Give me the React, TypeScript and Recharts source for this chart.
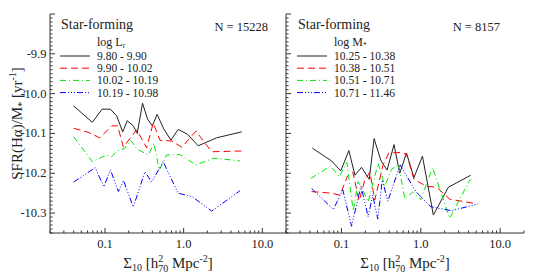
import { LineChart, Line, XAxis, YAxis, Legend } from 'recharts';

const FONT = '"Liberation Serif", "Times New Roman", serif';
const AXIS = '#333';

// left panel: bins of log L_r
const lumBins = ['9.80 - 9.90', '9.90 - 10.02', '10.02 - 10.19', '10.19 - 10.98'];
const lum1Sigma = [0.040, 0.069, 0.092, 0.117, 0.141, 0.168, 0.192, 0.229, 0.257, 0.30, 0.348, 0.40, 0.46, 0.56, 0.69, 0.85, 1.12, 1.53, 2.62, 5.46];
const lum1Sfr = [-10.031, -10.072, -10.039, -10.039, -10.056, -10.096, -10.068, -10.081, -10.100, -10.024, -10.064, -10.081, -10.052, -10.089, -10.117, -10.090, -10.102, -10.131, -10.111, -10.096];
const lum2Sigma = [0.040, 0.061, 0.086, 0.122, 0.145, 0.171, 0.253, 0.339, 0.41, 0.50, 0.71, 0.95, 1.43, 2.27, 5.46];
const lum2Sfr = [-10.087, -10.097, -10.111, -10.081, -10.081, -10.134, -10.091, -10.136, -10.074, -10.117, -10.119, -10.135, -10.094, -10.146, -10.144];
const lum3Sigma = [0.040, 0.069, 0.105, 0.122, 0.142, 0.179, 0.212, 0.255, 0.355, 0.42, 0.49, 0.61, 0.90, 1.43, 2.43, 5.19];
const lum3Sfr = [-10.108, -10.171, -10.154, -10.158, -10.144, -10.137, -10.117, -10.139, -10.154, -10.125, -10.192, -10.154, -10.153, -10.179, -10.162, -10.169];
const lum4Sigma = [0.040, 0.075, 0.097, 0.117, 0.148, 0.172, 0.229, 0.322, 0.392, 0.55, 0.85, 1.29, 2.27, 5.19];
const lum4Sfr = [-10.222, -10.186, -10.234, -10.191, -10.246, -10.218, -10.285, -10.196, -10.222, -10.171, -10.250, -10.259, -10.295, -10.244];

// right panel: bins of log M*
const massBins = ['10.25 - 10.38', '10.38 - 10.51', '10.51 - 10.71', '10.71 - 11.46'];
const mass1Sigma = [0.043, 0.075, 0.098, 0.124, 0.148, 0.179, 0.224, 0.258, 0.313, 0.376, 0.46, 0.543, 0.66, 0.82, 1.05, 1.44, 2.23, 4.25];
const mass1Sfr = [-10.137, -10.169, -10.194, -10.143, -10.205, -10.185, -10.215, -10.113, -10.167, -10.192, -10.128, -10.200, -10.149, -10.211, -10.157, -10.305, -10.235, -10.205];
const mass2Sigma = [0.042, 0.075, 0.096, 0.119, 0.139, 0.167, 0.197, 0.228, 0.263, 0.335, 0.395, 0.55, 0.66, 0.82, 1.18, 1.59, 2.31, 4.54];
const mass2Sfr = [-10.246, -10.250, -10.255, -10.207, -10.197, -10.269, -10.217, -10.197, -10.267, -10.179, -10.149, -10.148, -10.152, -10.215, -10.233, -10.235, -10.265, -10.275];
const mass3Sigma = [0.041, 0.073, 0.094, 0.117, 0.141, 0.162, 0.186, 0.217, 0.29, 0.352, 0.43, 0.52, 0.63, 0.79, 1.00, 1.41, 2.31, 4.21];
const mass3Sfr = [-10.213, -10.182, -10.209, -10.173, -10.295, -10.221, -10.242, -10.272, -10.175, -10.232, -10.190, -10.177, -10.264, -10.247, -10.266, -10.186, -10.313, -10.215];
const mass4Sigma = [0.042, 0.079, 0.104, 0.134, 0.176, 0.217, 0.248, 0.287, 0.327, 0.384, 0.55, 0.86, 1.33, 2.45, 5.25];
const mass4Sfr = [-10.238, -10.291, -10.242, -10.333, -10.232, -10.309, -10.255, -10.315, -10.217, -10.270, -10.179, -10.245, -10.284, -10.294, -10.277];

// axes
const xDomain = [0.02, 20];
const yDomain = [-10.35, -9.8];
const xTicks = [0.02, 0.03, 0.04, 0.05, 0.06, 0.07, 0.08, 0.09, 0.1, 0.2, 0.3, 0.4, 0.5, 0.6, 0.7, 0.8, 0.9, 1, 2, 3, 4, 5, 6, 7, 8, 9, 10, 20];
const xMajor = [0.1, 1, 10];
const xTickLabels = ['0.1', '1.0', '10.0'];
const yTickLabels = ['-9.9', '-10.0', '-10.1', '-10.2', '-10.3'];
const yTicks = Array.from({ length: 56 }, (_, i) => Math.round((-10.35 + i * 0.01) * 100) / 100);

const colors = ['#222', '#ff0000', '#00e600', '#0000ff'];
const dashes = [undefined, '7 4', '6 3 1 3', '6 2 1 2 1 2 1 2'];

const zip = (xs: number[], ys: number[]) => xs.map((x, i) => ({ x, y: ys[i] }));

const lumSeries = [zip(lum1Sigma, lum1Sfr), zip(lum2Sigma, lum2Sfr), zip(lum3Sigma, lum3Sfr), zip(lum4Sigma, lum4Sfr)];
const massSeries = [zip(mass1Sigma, mass1Sfr), zip(mass2Sigma, mass2Sfr), zip(mass3Sigma, mass3Sfr), zip(mass4Sigma, mass4Sfr)];

const isMajorY = (v: number) => Math.abs(v * 10 - Math.round(v * 10)) < 1e-6;

function AxisTick(props: any) {
  const { x, y, payload, side, showLabel } = props;
  const v = payload.value as number;
  const horiz = side === 'bottom' || side === 'top';
  const major = horiz ? xMajor.includes(v) : isMajorY(v);
  const len = major ? 5 : 2.5;
  let x2 = x, y2 = y;
  if (side === 'bottom') y2 = y - len;
  if (side === 'top') y2 = y + len;
  if (side === 'left') x2 = x + len;
  if (side === 'right') x2 = x - len;
  let label: string | null = null;
  if (showLabel && major) {
    if (horiz) label = xTickLabels[xMajor.indexOf(v)];
    else if (yTickLabels.includes(v.toFixed(1))) label = v.toFixed(1);
  }
  return (
    <g>
      <line x1={x} y1={y} x2={x2} y2={y2} stroke={AXIS} strokeWidth={1} />
      {label && side === 'bottom' && (
        <text x={x} y={y + 15} textAnchor="middle" fontSize={12.5} fontFamily={FONT} fill="#222">{label}</text>
      )}
      {label && side === 'left' && (
        <text x={x - 3.5} y={y + 4} textAnchor="end" fontSize={12.5} fontFamily={FONT} fill="#222">{label}</text>
      )}
    </g>
  );
}

function BinLegend({ head, sub, bins }: { head: string; sub: string; bins: string[] }) {
  return (
    <svg width={130} height={72} style={{ overflow: 'visible' }}>
      <text x={42} y={16} fontSize={12} fontFamily={FONT} fill="#222">
        {head}
        <tspan dy={2} fontSize={7.5}>{sub}</tspan>
      </text>
      {bins.map((b, i) => (
        <g key={b}>
          <line x1={5} x2={35} y1={26 + i * 12.2} y2={26 + i * 12.2} stroke={colors[i]} strokeDasharray={dashes[i]} strokeWidth={1} />
          <text x={42} y={30 + i * 12.2} fontSize={11.5} fontFamily={FONT} fill="#222">{b}</text>
        </g>
      ))}
    </svg>
  );
}

function Panel({ series, bins, head, sub, width, marginRight, yWidth, showYLabels, legendLeft }: any) {
  return (
    <LineChart width={width} height={275} margin={{ top: 14, right: marginRight, bottom: 0, left: 0 }}>
      <XAxis xAxisId="b" dataKey="x" type="number" scale="log" domain={xDomain} allowDataOverflow ticks={xTicks} interval={0}
        height={42} tickSize={0} tickMargin={0} tickLine={false} axisLine={{ stroke: AXIS }}
        tick={(p: any) => <AxisTick {...p} side="bottom" showLabel />} />
      <XAxis xAxisId="t" orientation="top" dataKey="x" type="number" scale="log" domain={xDomain} allowDataOverflow ticks={xTicks} interval={0}
        height={0} tickSize={0} tickMargin={0} tickLine={false} axisLine={{ stroke: AXIS }}
        tick={(p: any) => <AxisTick {...p} side="top" />} />
      <YAxis yAxisId="l" type="number" domain={yDomain} allowDataOverflow ticks={yTicks} interval={0}
        width={yWidth} tickSize={0} tickMargin={0} tickLine={false} axisLine={{ stroke: AXIS }}
        tick={(p: any) => <AxisTick {...p} side="left" showLabel={showYLabels} />} />
      <YAxis yAxisId="r" orientation="right" type="number" domain={yDomain} allowDataOverflow ticks={yTicks} interval={0}
        width={0} tickSize={0} tickMargin={0} tickLine={false} axisLine={{ stroke: AXIS }}
        tick={(p: any) => <AxisTick {...p} side="right" />} />
      {series.map((d: any, i: number) => (
        <Line key={bins[i]} name={bins[i]} xAxisId="b" yAxisId="l" data={d} dataKey="y" type="linear"
          stroke={colors[i]} strokeDasharray={dashes[i]} strokeWidth={1} dot={false} isAnimationActive={false} />
      ))}
      <Legend layout="vertical" align="center" verticalAlign="middle"
        wrapperStyle={{ left: legendLeft, top: 30, width: 130, height: 72 }}
        content={() => <BinLegend head={head} sub={sub} bins={bins} />} />
    </LineChart>
  );
}

export default function App() {
  const t = { fontFamily: FONT, fill: '#222' };
  return (
    <div style={{ position: 'absolute', left: 0, top: 0, width: 551, height: 275, background: '#fff' }}>
      <div style={{ position: 'absolute', left: 0, top: 0 }}>
        <Panel series={lumSeries} bins={lumBins} head="log L" sub="r" width={290} marginRight={4} yWidth={50} showYLabels legendLeft={55} />
      </div>
      <div style={{ position: 'absolute', left: 280, top: 0 }}>
        <Panel series={massSeries} bins={massBins} head="log M" sub="*" width={271} marginRight={27} yWidth={6} showYLabels={false} legendLeft={12} />
      </div>
      <svg width={551} height={275} style={{ position: 'absolute', left: 0, top: 0, pointerEvents: 'none' }}>
        <text x={61} y={29} fontSize={14} {...t}>Star-forming</text>
        <text x={268} y={31} fontSize={12.5} textAnchor="end" {...t}>N = 15228</text>
        <text x={298} y={29} fontSize={14} {...t}>Star-forming</text>
        <text x={500} y={31} fontSize={12.5} textAnchor="end" {...t}>N = 8157</text>
        <text x={22} y={123.5} fontSize={15} textAnchor="middle" transform="rotate(-90 22 123.5)" {...t}>
          SFR(Hα)/M<tspan dy={3} fontSize={10}>*</tspan>
          <tspan dy={-3}> [yr</tspan>
          <tspan dy={-6} fontSize={10}>-1</tspan>
          <tspan dy={6}>]</tspan>
        </text>
        {[168, 405].map((cx) => (
          <text key={cx} x={cx} y={268} fontSize={15} textAnchor="middle" {...t}>
            Σ<tspan dy={3} fontSize={10}>10</tspan>
            <tspan dy={-3}> [h</tspan>
            <tspan dy={-6} fontSize={10}>2</tspan>
            <tspan dx={-5} dy={10} fontSize={10}>70</tspan>
            <tspan dy={-4}> Mpc</tspan>
            <tspan dy={-6} fontSize={10}>-2</tspan>
            <tspan dy={6}>]</tspan>
          </text>
        ))}
      </svg>
    </div>
  );
}
